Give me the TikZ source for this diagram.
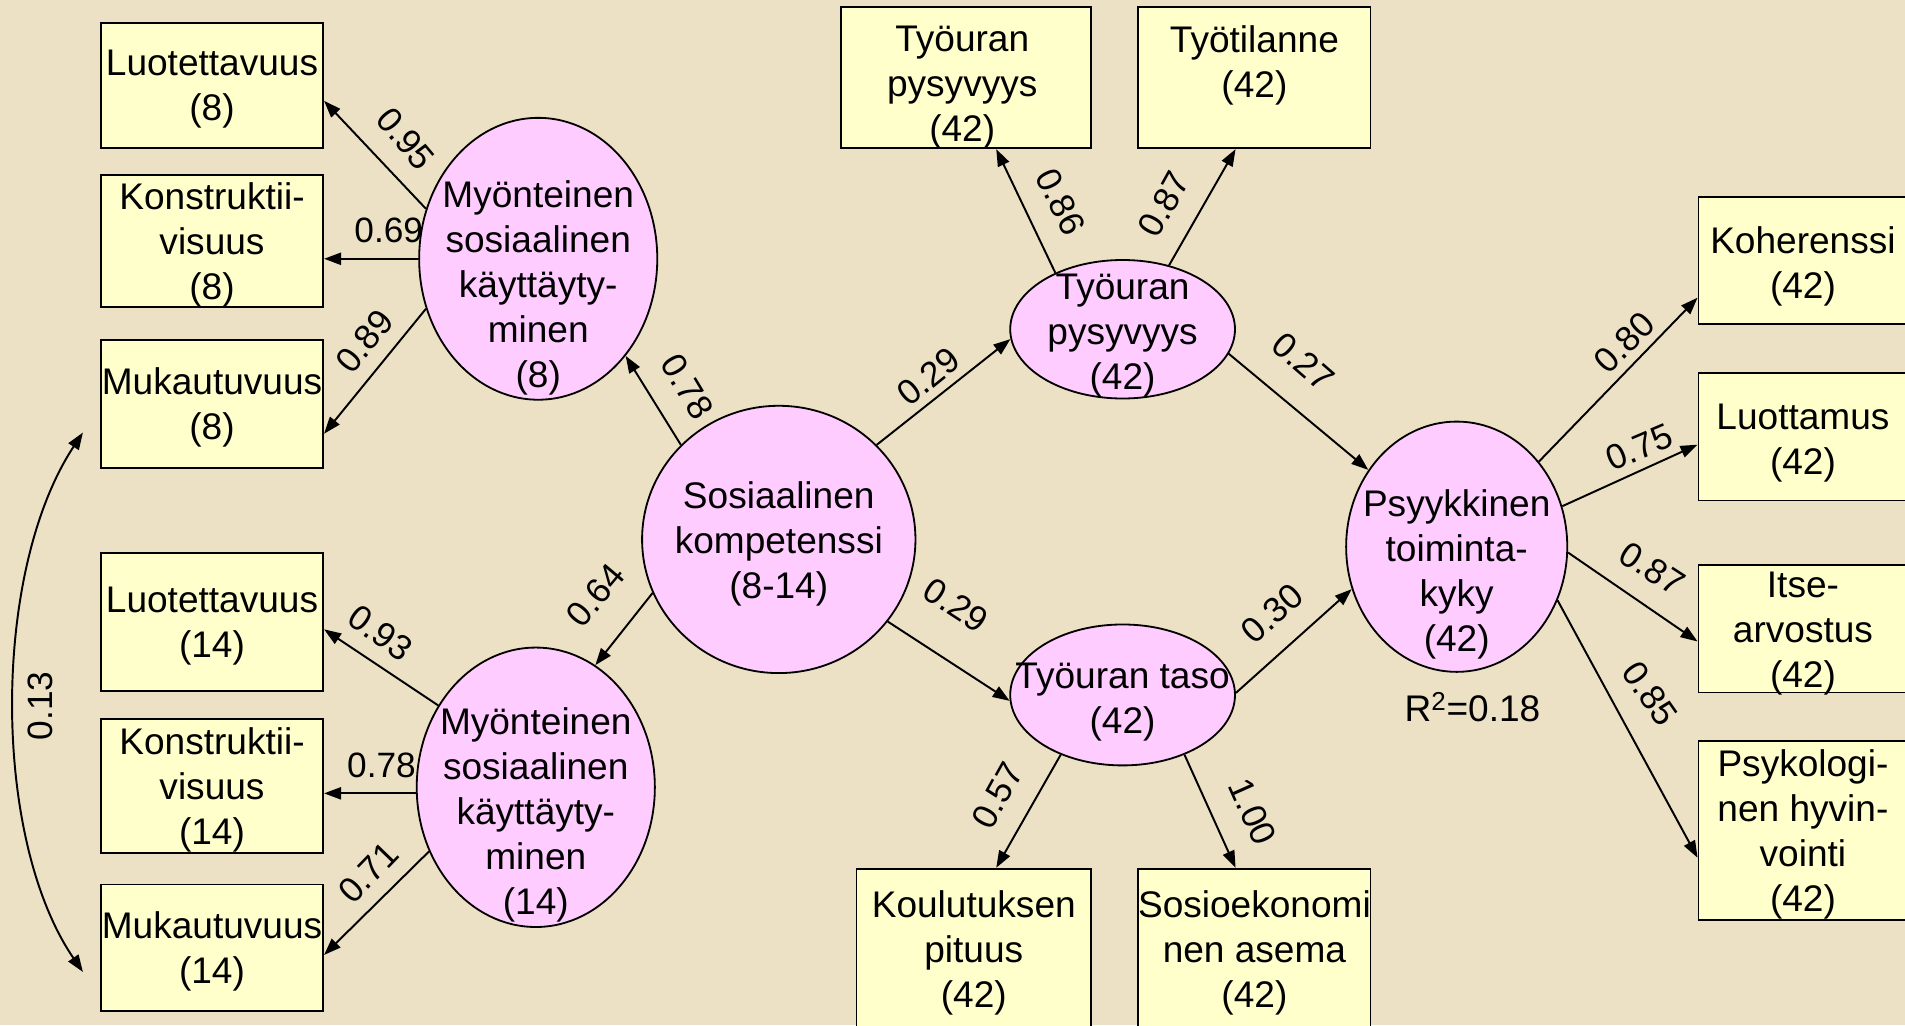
\documentclass[tikz,border=0pt]{standalone}
\usepackage{fontspec}
\setmainfont{Liberation Sans}
\usetikzlibrary{arrows.meta,shapes.geometric}
\definecolor{parch}{RGB}{236,225,197}
\definecolor{boxfill}{RGB}{255,255,204}
\definecolor{ellfill}{RGB}{255,204,255}
\begin{document}
\begin{tikzpicture}[x=1pt,y=-1pt,
  obs/.style={draw=black, line width=1.5pt, fill=boxfill, rectangle, inner sep=0pt},
  lat/.style={draw=black, line width=1.5pt, fill=ellfill, ellipse, inner sep=0pt},
  txt/.style={align=center, inner sep=0pt, yshift=-3pt, font=\fontsize{30.5}{37}\selectfont},
  coef/.style={inner sep=0pt, font=\fontsize{29}{34}\selectfont},
  arr/.style={line width=1.6pt, -{Triangle[length=14pt,width=10pt]}},
  dblarr/.style={line width=1.6pt, {Triangle[length=14pt,width=10pt]}-{Triangle[length=14pt,width=10pt]}},
]
\useasboundingbox (0,0) rectangle (1568,844);
\clip (0,0) rectangle (1568,844);
\fill[parch] (0,0) rectangle (1568,844);

% coefficient labels (drawn first, shapes overlap them)
\node[coef, rotate=-50] (l95) at (334,114) {0.95};
\node[coef] (l69) at (320,190) {0.69};
\node[coef, rotate=51] (l89) at (300,281) {0.89};
\node[coef, rotate=-59] (l78a) at (566,318) {0.78};
\node[coef, rotate=50] (l64) at (490,490) {0.64};
\node[coef, rotate=-36] (l93) at (313,521) {0.93};
\node[coef] (l78b) at (314,630) {0.78};
\node[coef, rotate=46] (l71) at (303,718) {0.71};
\node[coef, rotate=90] (l13) at (33,581) {0.13};
\node[coef, rotate=39] (l29a) at (764,310) {0.29};
\node[coef, rotate=-33] (l29b) at (787,498) {0.29};
\node[coef, rotate=-64] (l86) at (873,166) {0.86};
\node[coef, rotate=61] (l87a) at (958,168) {0.87};
\node[coef, rotate=-41] (l27) at (1073,298) {0.27};
\node[coef, rotate=42] (l30) at (1047,505) {0.30};
\node[coef, rotate=61] (l57) at (821,655) {0.57};
\node[coef, rotate=-66] (l100) at (1031,668) {1.00};
\node[coef, rotate=45] (l80) at (1337,282) {0.80};
\node[coef, rotate=23] (l75) at (1349,368) {0.75};
\node[coef, rotate=-33] (l87b) at (1360,468) {0.87};
\node[coef, rotate=-55] (l85) at (1358,571) {0.85};

% observed variables (boxes)
\node[obs, minimum width=183pt, minimum height=103pt, label={[txt]center:{Luotettavuus\\(8)}}] (luo8) at (174.5,70.5) {};
\node[obs, minimum width=183pt, minimum height=109pt, label={[txt]center:{Konstruktii-\\visuus\\(8)}}] (kon8) at (174.5,198.5) {};
\node[obs, minimum width=183pt, minimum height=105pt, label={[txt]center:{Mukautuvuus\\(8)}}] (muk8) at (174.5,332.5) {};
\node[obs, minimum width=183pt, minimum height=114pt, label={[txt]center:{Luotettavuus\\(14)}}] (luo14) at (174.5,512) {};
\node[obs, minimum width=183pt, minimum height=110pt, label={[txt]center:{Konstruktii-\\visuus\\(14)}}] (kon14) at (174.5,647) {};
\node[obs, minimum width=183pt, minimum height=104pt, label={[txt]center:{Mukautuvuus\\(14)}}] (muk14) at (174.5,780) {};
\node[obs, minimum width=206pt, minimum height=116pt, label={[txt,xshift=-3pt,yshift=-5pt]center:{Työuran\\pysyvyys\\(42)}}] (tpb) at (795,64) {};
\node[obs, minimum width=191pt, minimum height=116pt, label={[txt,yshift=13pt]center:{Työtilanne\\(42)}}] (tyot) at (1032.5,64) {};
\node[obs, minimum width=193pt, minimum height=132pt, label={[txt]center:{Koulutuksen\\pituus\\(42)}}] (koul) at (801.5,781) {};
\node[obs, minimum width=191pt, minimum height=132pt, label={[txt]center:{Sosioekonomi\\nen asema\\(42)}}] (sosio) at (1032.5,781) {};
\node[obs, minimum width=172pt, minimum height=105pt, label={[txt,yshift=-2pt]center:{Koherenssi\\(42)}}] (koh) at (1484,214.5) {};
\node[obs, minimum width=172pt, minimum height=105pt, label={[txt,yshift=-2pt]center:{Luottamus\\(42)}}] (luot) at (1484,359.5) {};
\node[obs, minimum width=172pt, minimum height=105pt, label={[txt,yshift=-1pt]center:{Itse-\\arvostus\\(42)}}] (itse) at (1484,517.5) {};
\node[obs, minimum width=172pt, minimum height=147pt, label={[txt]center:{Psykologi-\\nen hyvin-\\vointi\\(42)}}] (psykol) at (1484,683.5) {};

% latent variables (ellipses)
\node[lat, minimum width=196pt, minimum height=232pt] (e1) at (443,213) {};
\node[lat, minimum width=196pt, minimum height=230pt] (e2) at (441,648) {};
\node[lat, minimum width=225pt, minimum height=220pt] (sos) at (641,444) {};
\node[lat, minimum width=185pt, minimum height=114pt] (tpe) at (924,271) {};
\node[lat, minimum width=185pt, minimum height=116pt] (tte) at (924,572) {};
\node[lat, minimum width=182pt, minimum height=206pt] (psy) at (1199,450) {};

% connectors
\draw[arr] (e1.156) -- ([yshift=-12.5pt]luo8.east);
\draw[arr] (e1.west) -- ([yshift=-14.5pt]kon8.east);
\draw[arr] (e1.204) -- ([yshift=-24.5pt]muk8.east);
\draw[arr] (sos.136) -- (e1.312);
\draw[arr] (sos.203) -- (e2.64);
\draw[arr] (e2.140) -- ([yshift=-6pt]luo14.east);
\draw[arr] ([yshift=-5pt]e2.west) -- ([yshift=-6pt]kon14.east);
\draw[arr] (e2.211) -- ([yshift=-6pt]muk14.east);
\coordinate (c1) at ([xshift=-14pt,yshift=-23.5pt]muk8.west);
\coordinate (c2) at ([xshift=-14pt,yshift=-20pt]muk14.west);
\draw[dblarr] (c1) .. controls (-7,470) and (-7,690) .. (c2);
\draw[arr] (sos.44) -- (tpe.185);
\draw[arr] (sos.323) -- (tte.183);
\draw[arr] (tpe.140) -- ([xshift=25pt]tpb.south);
\draw[arr] (tpe.54) -- ([xshift=-15.5pt]tyot.south);
\draw[arr] (tpe.347) -- (psy.139);
\draw[arr] (tte.1) -- (psy.202);
\draw[arr] (tte.224) -- ([xshift=18.5pt]koul.north);
\draw[arr] (tte.316) -- ([xshift=-15.5pt]sosio.north);
\draw[arr] (psy.46) -- ([yshift=-30.5pt]koh.west);
\draw[arr] (psy.21) -- ([yshift=-6.5pt]luot.west);
\draw[arr] (psy.357) -- ([yshift=-10.5pt]itse.west);
\draw[arr] (psy.332) -- ([yshift=-22.5pt]psykol.west);

% texts in ellipses
\node[txt] (e1t) at (443,234) {Myönteinen\\sosiaalinen\\käyttäyty-\\minen\\(8)};
\node[txt] (e2t) at (441,668) {Myönteinen\\sosiaalinen\\käyttäyty-\\minen\\(14)};
\node[txt] (sost) at (641,445) {Sosiaalinen\\kompetenssi\\(8-14)};
\node[txt] (tpet) at (924,273) {Työuran\\pysyvyys\\(42)};
\node[txt] (ttet) at (924,575) {Työuran taso\\(42)};
\node[txt] (psyt) at (1199,470) {Psyykkinen\\toiminta-\\kyky\\(42)};
\node[txt] (r2) at (1212,579) {R\textsuperscript{2}=0.18};
\end{tikzpicture}
\end{document}
